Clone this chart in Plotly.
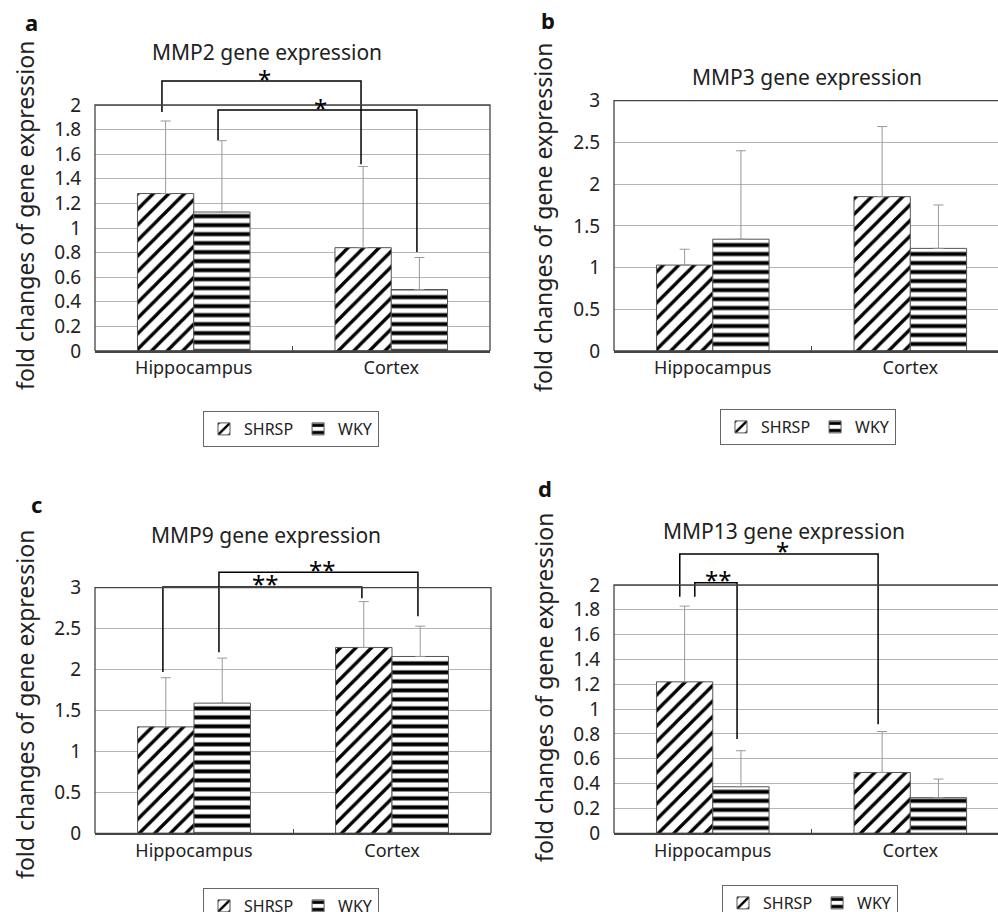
import plotly.graph_objects as go

# ---------------- data ----------------
categories = ["Hippocampus", "Cortex"]
series_names = ["SHRSP", "WKY"]

titles = ["MMP2 gene expression", "MMP3 gene expression",
          "MMP9 gene expression", "MMP13 gene expression"]
panel_letters = ["a", "b", "c", "d"]
y_title = "fold changes of gene expression"

# means and upper SD per panel
mmp2_shrsp = [1.28, 0.84]
mmp2_shrsp_sd = [0.59, 0.66]
mmp2_wky = [1.13, 0.50]
mmp2_wky_sd = [0.58, 0.26]

mmp3_shrsp = [1.03, 1.85]
mmp3_shrsp_sd = [0.19, 0.84]
mmp3_wky = [1.34, 1.23]
mmp3_wky_sd = [1.06, 0.52]

mmp9_shrsp = [1.30, 2.27]
mmp9_shrsp_sd = [0.60, 0.56]
mmp9_wky = [1.59, 2.16]
mmp9_wky_sd = [0.55, 0.37]

mmp13_shrsp = [1.22, 0.49]
mmp13_shrsp_sd = [0.61, 0.33]
mmp13_wky = [0.375, 0.287]
mmp13_wky_sd = [0.29, 0.15]

ticks_0_2 = [0, 0.2, 0.4, 0.6, 0.8, 1, 1.2, 1.4, 1.6, 1.8, 2]
ticks_0_2_text = ["0", "0.2", "0.4", "0.6", "0.8", "1", "1.2", "1.4", "1.6", "1.8", "2"]
ticks_0_3 = [0, 0.5, 1, 1.5, 2, 2.5, 3]
ticks_0_3_text = ["0", "0.5", "1", "1.5", "2", "2.5", "3"]

# significance brackets: (x list, y list, star label, star x, star y)
brackets_a = [
    ([-0.161, -0.161, 0.847, 0.847], [1.943, 2.195, 2.195, 1.518], "*", 0.356, 2.195),
    ([0.123, 0.123, 1.13, 1.13], [1.715, 1.959, 1.959, 0.805], "*", 0.644, 1.959),
]
brackets_b = []
brackets_c = [
    ([-0.157, -0.157, 0.848, 0.848], [1.97, 3.01, 3.01, 2.87], "**", 0.359, 3.01),
    ([0.126, 0.126, 1.131, 1.131], [2.21, 3.19, 3.19, 2.65], "**", 0.646, 3.19),
]
brackets_d = [
    ([-0.167, -0.167, 0.837, 0.837], [1.905, 2.25, 2.25, 0.878], "*", 0.351, 2.25),
    ([-0.091, -0.091, 0.123, 0.123], [1.905, 2.018, 2.018, 0.76], "**", 0.027, 2.018),
]

# ---------------- layout geometry (pixels) ----------------
W, H = 998, 912
FONT = "Noto Sans"

panels = [
    dict(shrsp=mmp2_shrsp, shrsp_sd=mmp2_shrsp_sd, wky=mmp2_wky, wky_sd=mmp2_wky_sd,
         ticks=ticks_0_2, ticktext=ticks_0_2_text, ytop=2, brackets=brackets_a,
         left=95, right=490, bottom=351, top_val_px=105, ymax=2.45, xmax=1.5, frame_x1=1,
         title_xy=(267, 52), ytitle_xy=(25, 216), letter_xy=(31, 22), legend_xy=(291, 411)),
    dict(shrsp=mmp3_shrsp, shrsp_sd=mmp3_shrsp_sd, wky=mmp3_wky, wky_sd=mmp3_wky_sd,
         ticks=ticks_0_3, ticktext=ticks_0_3_text, ytop=3, brackets=brackets_b,
         left=614, right=998, bottom=351, top_val_px=100.7, ymax=3.05, xmax=1.444, frame_x1=1.05,
         title_xy=(807, 77), ytitle_xy=(543, 218), letter_xy=(548, 20), legend_xy=(808, 409)),
    dict(shrsp=mmp9_shrsp, shrsp_sd=mmp9_shrsp_sd, wky=mmp9_wky, wky_sd=mmp9_wky_sd,
         ticks=ticks_0_3, ticktext=ticks_0_3_text, ytop=3, brackets=brackets_c,
         left=95, right=491, bottom=833.3, top_val_px=587.7, ymax=3.45, xmax=1.5, frame_x1=1,
         title_xy=(266, 535), ytitle_xy=(25, 705), letter_xy=(36, 504), legend_xy=(291, 888)),
    dict(shrsp=mmp13_shrsp, shrsp_sd=mmp13_shrsp_sd, wky=mmp13_wky, wky_sd=mmp13_wky_sd,
         ticks=ticks_0_2, ticktext=ticks_0_2_text, ytop=2, brackets=brackets_d,
         left=614, right=998, bottom=833.3, top_val_px=585, ymax=2.4, xmax=1.444, frame_x1=1.05,
         title_xy=(784, 531), ytitle_xy=(544, 688), letter_xy=(545, 488), legend_xy=(810, 885)),
]

fig = go.Figure()
layout = dict(
    width=W, height=H, margin=dict(l=0, r=0, t=0, b=0, autoexpand=False),
    paper_bgcolor="white", plot_bgcolor="white",
    barmode="group", bargap=0.43, bargroupgap=0,
    font=dict(family=FONT, color="#222"),
    showlegend=True,
)
shapes = []
annotations = []

for i, p in enumerate(panels):
    n = "" if i == 0 else str(i + 1)
    xa, ya = "x" + n, "y" + n
    leg = "legend" + n
    px_per_unit = (p["bottom"] - p["top_val_px"]) / p["ytop"]
    top_px = p["bottom"] - p["ymax"] * px_per_unit
    xdom = [p["left"] / W, min(1.0, p["right"] / W)]
    ydom = [1 - p["bottom"] / H, 1 - top_px / H]

    for name, vals, sd, shape, size, sol in [
        (series_names[0], p["shrsp"], p["shrsp_sd"], "/", 11, 0.3),
        (series_names[1], p["wky"], p["wky_sd"], "-", 9, 0.45),
    ]:
        fig.add_trace(go.Bar(
            x=list(range(len(categories))), y=vals, name=name,
            xaxis=xa, yaxis=ya, legend=leg,
            marker=dict(color="white", line=dict(color="#555", width=1),
                        pattern=dict(shape=shape, fgcolor="black", bgcolor="white",
                                     fgopacity=1, size=size, solidity=sol)),
            error_y=dict(type="data", symmetric=False, array=sd, arrayminus=[0] * len(sd),
                         color="#999", thickness=1, width=5),
            hoverinfo="skip",
        ))

    for bx, by, lab, sx, sy in p["brackets"]:
        fig.add_trace(go.Scatter(x=bx, y=by, mode="lines", xaxis=xa, yaxis=ya,
                                 line=dict(color="black", width=1.5),
                                 showlegend=False, hoverinfo="skip"))
        annotations.append(dict(x=sx, y=sy, xref=xa, yref=ya, text=lab, showarrow=False,
                                yanchor="middle", yshift=3,
                                font=dict(size=24, color="black", family=FONT)))

    layout["xaxis" + n] = dict(
        domain=xdom, anchor=ya, range=[-0.5, p["xmax"]],
        tickvals=list(range(len(categories))), ticktext=categories,
        ticks="", showgrid=False, zeroline=False,
        showline=True, linecolor="#444", linewidth=1.5,
        tickfont=dict(size=18, color="#222"),
        minor=dict(tickvals=[0.5], ticks="inside", ticklen=5, tickcolor="#444", showgrid=False),
    )
    layout["yaxis" + n] = dict(
        domain=ydom, anchor=xa, range=[0, p["ymax"]],
        tickvals=p["ticks"], ticktext=p["ticktext"],
        ticks="outside", ticklen=9, tickcolor="rgba(0,0,0,0)",
        showgrid=True, gridcolor="#b4b4b4", gridwidth=1,
        zeroline=False, showline=False,
        tickfont=dict(size=19, color="#222"),
    )
    layout[leg] = dict(
        x=p["legend_xy"][0] / W, xanchor="center",
        y=1 - p["legend_xy"][1] / H, yanchor="top",
        orientation="h", bordercolor="#666", borderwidth=1, bgcolor="white",
        font=dict(size=16, color="#222", family=FONT), itemwidth=30,
        traceorder="normal",
    )
    shapes.append(dict(type="rect", xref=xa + " domain", yref=ya,
                       x0=0, x1=p["frame_x1"], y0=0, y1=p["ytop"],
                       line=dict(color="#444", width=1.3), fillcolor="rgba(0,0,0,0)",
                       layer="above"))

    annotations.append(dict(x=p["title_xy"][0] / W, y=1 - p["title_xy"][1] / H,
                            xref="paper", yref="paper", text=titles[i], showarrow=False,
                            xanchor="center", yanchor="middle",
                            font=dict(size=21, color="#222", family=FONT)))
    annotations.append(dict(x=p["ytitle_xy"][0] / W, y=1 - p["ytitle_xy"][1] / H,
                            xref="paper", yref="paper", text=y_title, showarrow=False,
                            textangle=-90, xanchor="center", yanchor="middle",
                            font=dict(size=23, color="#222", family=FONT)))
    annotations.append(dict(x=p["letter_xy"][0] / W, y=1 - p["letter_xy"][1] / H,
                            xref="paper", yref="paper", text="<b>" + panel_letters[i] + "</b>",
                            showarrow=False, xanchor="center", yanchor="middle",
                            font=dict(size=22, color="#111", family=FONT)))

layout["shapes"] = shapes
layout["annotations"] = annotations
fig.update_layout(**layout)
fig.write_html("out.html", config={"displayModeBar": False},
               post_script="document.body.style.margin='0px';document.body.style.overflow='hidden';")
